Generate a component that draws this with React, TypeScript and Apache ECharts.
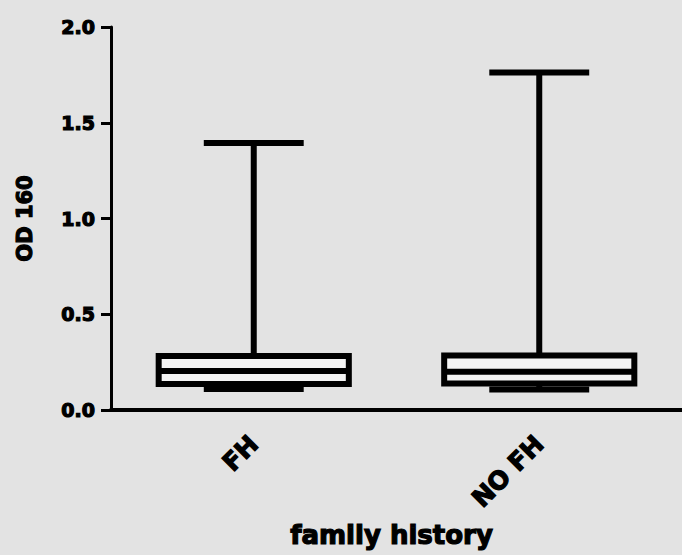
import React, { useEffect, useRef } from "react";
import * as echarts from "echarts";

const categories = ["FH", "NO FH"];
const whiskerLow = [0.11, 0.107];
const quartile1 = [0.136, 0.138];
const medians = [0.204, 0.2];
const quartile3 = [0.282, 0.285];
const whiskerHigh = [1.394, 1.762];
const yTicks = { min: 0, max: 2, interval: 0.5 };

const FONT = "DejaVu Sans";
const heavy = { textBorderColor: "#000", textBorderWidth: 1.2 };

export default function App() {
  const ref = useRef<HTMLDivElement>(null);
  useEffect(() => {
    if (!ref.current) return;
    const chart = echarts.init(ref.current, undefined, { renderer: "svg" });
    const data = categories.map((_, i) => [
      i,
      whiskerLow[i],
      quartile1[i],
      medians[i],
      quartile3[i],
      whiskerHigh[i],
    ]);
    const lw = 6;
    chart.setOption({
      animation: false,
      backgroundColor: "#e3e3e3",
      grid: { left: 111, right: 0, top: 27, bottom: 145 },
      xAxis: {
        type: "category",
        data: categories,
        boundaryGap: true,
        name: "family history",
        nameLocation: "middle",
        nameGap: 112,
        nameTextStyle: {
          fontFamily: FONT,
          fontWeight: "bold",
          fontSize: 26,
          color: "#000",
          padding: [0, 10, 0, 0],
          ...heavy,
        },
        axisLine: { lineStyle: { color: "#000", width: 4 } },
        axisTick: { alignWithLabel: true, length: 10, lineStyle: { color: "#000", width: 3 } },
        axisLabel: {
          rotate: 45,
          margin: 30,
          fontFamily: FONT,
          fontWeight: "bold",
          fontSize: 25,
          color: "#000",
          ...heavy,
        },
        splitLine: { show: false },
      },
      yAxis: {
        type: "value",
        min: yTicks.min,
        max: yTicks.max,
        interval: yTicks.interval,
        name: "OD 160",
        nameLocation: "middle",
        nameGap: 76,
        nameTextStyle: { fontFamily: FONT, fontWeight: "bold", fontSize: 21, color: "#000", ...heavy },
        axisLine: { show: true, lineStyle: { color: "#000", width: 3 } },
        axisTick: { show: true, length: 10, lineStyle: { color: "#000", width: 3 } },
        axisLabel: {
          margin: 16,
          fontFamily: FONT,
          fontWeight: "bold",
          fontSize: 19,
          color: "#000",
          ...heavy,
          formatter: (v: number) => v.toFixed(1),
        },
        splitLine: { show: false },
      },
      series: [
        {
          type: "custom",
          data,
          encode: { x: 0, y: [1, 2, 3, 4, 5] },
          renderItem: (params: any, api: any) => {
            const idx = api.value(0);
            const lo = api.coord([idx, api.value(1)]);
            const q1 = api.coord([idx, api.value(2)]);
            const med = api.coord([idx, api.value(3)]);
            const q3 = api.coord([idx, api.value(4)]);
            const hi = api.coord([idx, api.value(5)]);
            const band = api.size([1, 0])[0];
            const bh = band * 0.333;
            const ch = band * 0.175;
            const cx = q1[0];
            const st = { stroke: "#000", lineWidth: lw, fill: null };
            return {
              type: "group",
              children: [
                { type: "line", shape: { x1: cx, y1: q3[1], x2: cx, y2: hi[1] }, style: st },
                { type: "line", shape: { x1: cx - ch, y1: hi[1], x2: cx + ch, y2: hi[1] }, style: st },
                { type: "line", shape: { x1: cx, y1: q1[1], x2: cx, y2: lo[1] }, style: st },
                { type: "line", shape: { x1: cx - ch, y1: lo[1], x2: cx + ch, y2: lo[1] }, style: st },
                {
                  type: "rect",
                  shape: { x: cx - bh, y: q3[1], width: bh * 2, height: q1[1] - q3[1] },
                  style: { stroke: "#000", lineWidth: lw, fill: "#f4f4f4" },
                },
                { type: "line", shape: { x1: cx - bh, y1: med[1], x2: cx + bh, y2: med[1] }, style: st },
              ],
            };
          },
        },
      ],
    });
    return () => chart.dispose();
  }, []);
  return (
    <div
      ref={ref}
      style={{ position: "fixed", left: 0, top: 0, width: 682, height: 555, background: "#e3e3e3" }}
    />
  );
}
